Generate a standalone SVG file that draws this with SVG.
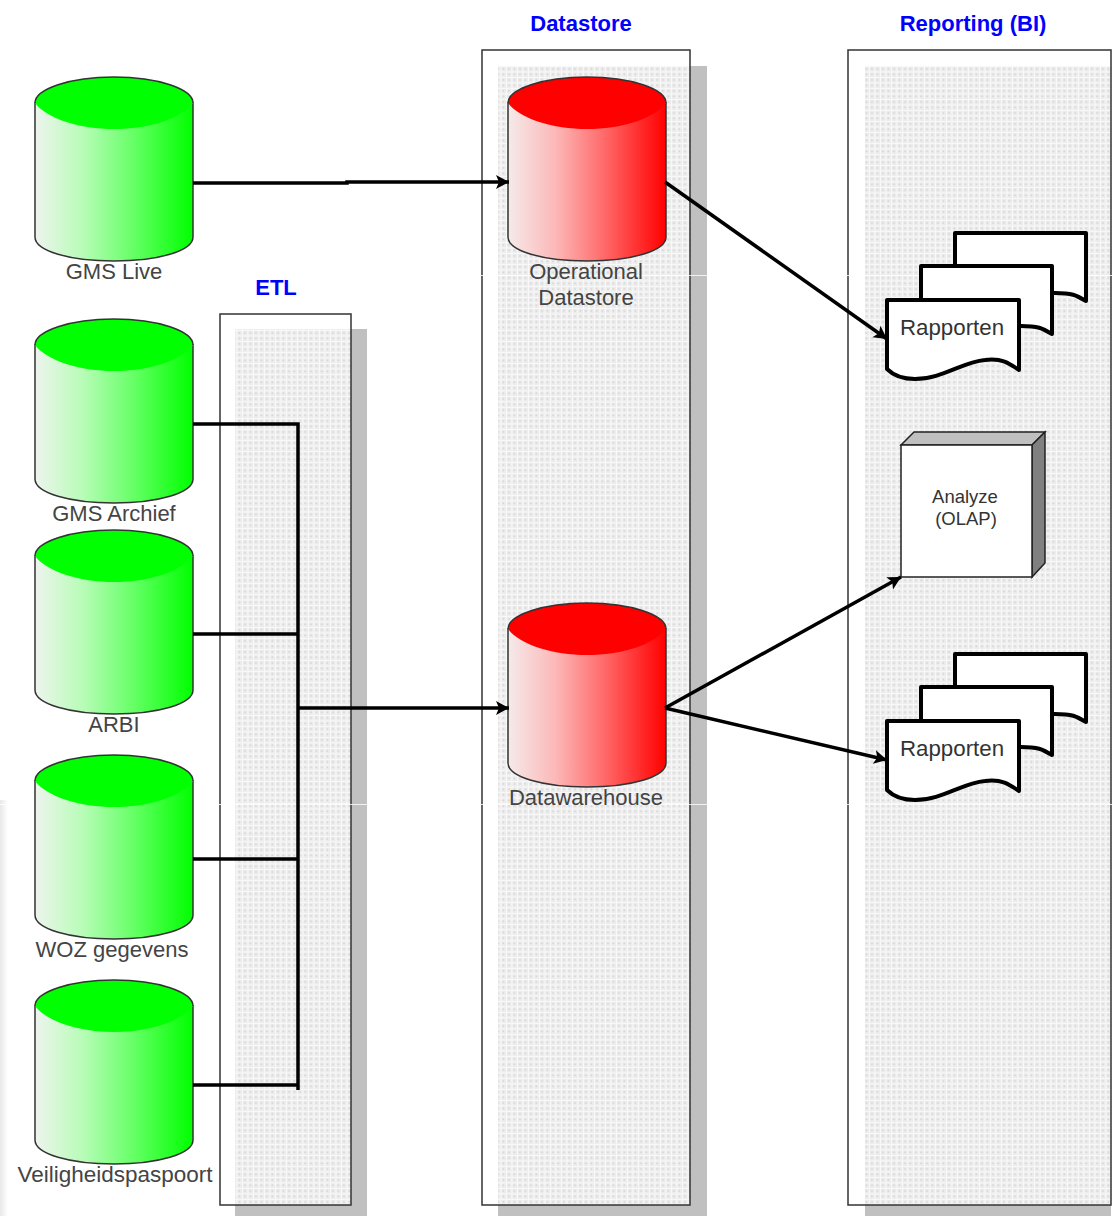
<svg xmlns="http://www.w3.org/2000/svg" xmlns:xlink="http://www.w3.org/1999/xlink" width="1113" height="1216" viewBox="0 0 1113 1216">
<style>
.title{font:bold 22px "Liberation Sans",Arial,sans-serif;fill:#0000ff;text-anchor:middle}
.lbl{font:22px "Liberation Sans",Arial,sans-serif;fill:#444;text-anchor:middle}
.sm{font:18.500px "Liberation Sans",Arial,sans-serif;fill:#333;text-anchor:middle}
.rp{font:22.300px "Liberation Sans",Arial,sans-serif;fill:#333;text-anchor:middle}
.panel{fill:none;stroke:#333;stroke-width:1.5}
.shadow{fill:#c0c0c0}
.side{stroke:#333;stroke-width:1.5}
.cap{stroke:none}
.conn{fill:none;stroke:#000;stroke-width:3.5}
.doc{fill:#fff;stroke:#000;stroke-width:4;stroke-linejoin:round}
</style>
<defs>
<pattern id="dots" width="5.500" height="5.500" patternUnits="userSpaceOnUse">
<rect width="5.500" height="5.500" fill="#ececec"/>
<path d="M0 0h5.500M0 0v5.500" stroke="#fdfdfd" stroke-width="1.300"/>
<rect x="2.200" y="2.200" width="1.400" height="1.400" fill="#cfcfcf"/>
</pattern>
<linearGradient id="gGreen"><stop offset="0" stop-color="#eef4ee"/><stop offset="0.3" stop-color="#b8fcb8"/><stop offset="0.6" stop-color="#6cff6c"/><stop offset="1" stop-color="#00ff00"/></linearGradient>
<linearGradient id="gRed"><stop offset="0" stop-color="#f6eaea"/><stop offset="0.3" stop-color="#fcb8b8"/><stop offset="0.6" stop-color="#ff6c6c"/><stop offset="1" stop-color="#ff0000"/></linearGradient>
<linearGradient id="edge"><stop offset="0" stop-color="#e8e8e8"/><stop offset="1" stop-color="#ffffff"/></linearGradient>
<marker id="arr" markerUnits="userSpaceOnUse" markerWidth="16" markerHeight="16" refX="14" refY="8" orient="auto"><path d="M1 1L14 8L1 15L4 8Z" fill="#000"/></marker>
<g id="cylG">
<path class="side" fill="url(#gGreen)" d="M0 26V160C0 174 35 184 79 184S158 174 158 160V26Z"/>
<path class="cap" fill="#00ff00" d="M0 26C12 42 45 52 79 52S146 42 158 26C158 12 123 0 79 0S0 12 0 26Z"/>
<path fill="none" class="side" d="M0 26C0 12 35 0 79 0S158 12 158 26"/>
</g>
<g id="cylR">
<path class="side" fill="url(#gRed)" d="M0 26V160C0 174 35 184 79 184S158 174 158 160V26Z"/>
<path class="cap" fill="#ff0000" d="M0 26C12 42 45 52 79 52S146 42 158 26C158 12 123 0 79 0S0 12 0 26Z"/>
<path fill="none" class="side" d="M0 26C0 12 35 0 79 0S158 12 158 26"/>
</g>
<g id="docs">
<path class="doc" d="M68 0H199V68C189 62 185 60 168 60H68Z"/>
<path class="doc" d="M34 33H165V101C155 95 151 93 134 93H34Z"/>
<path class="doc" d="M0 67H132V137C122 130 115 125 98 127C75 129 55 146 28 146C14 146 5 141 0 136Z"/>
</g>
</defs>
<rect x="0" y="800" width="8" height="416" fill="url(#edge)"/>
<g id="panel-etl">
<path class="shadow" d="M351 329H367V1216H235V1205H351Z"/>
<rect x="235" y="329" width="116" height="876" fill="url(#dots)"/>
<rect class="panel" x="220" y="314" width="131" height="891"/>
<text class="title" x="276" y="295">ETL</text>
</g>
<g id="panel-datastore">
<path class="shadow" d="M690 66H707V1216H498V1205H690Z"/>
<rect x="498" y="66" width="192" height="1139" fill="url(#dots)"/>
<rect class="panel" x="482" y="50" width="208" height="1155"/>
<text class="title" x="581" y="31">Datastore</text>
</g>
<g id="panel-reporting">
<path class="shadow" d="M1111 1205V1216H865V1205Z"/>
<rect x="865" y="66" width="246" height="1139" fill="url(#dots)"/>
<rect class="panel" x="848" y="50" width="263" height="1155"/>
<text class="title" x="973" y="31">Reporting (BI)</text>
</g>
<g id="scan-lines" stroke="#fff" stroke-width="1" opacity="0.8">
<path d="M0 275.500H1113M0 804.500H1113"/>
</g>
<g id="gms-live"><use xlink:href="#cylG" href="#cylG" x="35" y="77"/><text class="lbl" x="114" y="279">GMS Live</text></g>
<g id="gms-archief"><use xlink:href="#cylG" href="#cylG" x="35" y="319"/><text class="lbl" x="114" y="521">GMS Archief</text></g>
<g id="arbi"><use xlink:href="#cylG" href="#cylG" x="35" y="530"/><text class="lbl" x="114" y="732">ARBI</text></g>
<g id="woz"><use xlink:href="#cylG" href="#cylG" x="35" y="755"/><text class="lbl" x="112" y="957">WOZ gegevens</text></g>
<g id="veiligheid"><use xlink:href="#cylG" href="#cylG" x="35" y="980"/><text class="lbl" x="115" y="1182" style="font-size:22.500px">Veiligheidspaspoort</text></g>
<g id="ods"><use xlink:href="#cylR" href="#cylR" x="508" y="77"/><text class="lbl" x="586" y="279">Operational</text><text class="lbl" x="586" y="305">Datastore</text></g>
<g id="dwh"><use xlink:href="#cylR" href="#cylR" x="508" y="603"/><text class="lbl" x="586" y="805">Datawarehouse</text></g>
<g id="rapporten-1"><use xlink:href="#docs" href="#docs" x="887" y="233"/><text class="rp" x="952" y="335">Rapporten</text></g>
<g id="rapporten-2"><use xlink:href="#docs" href="#docs" x="887" y="654"/><text class="rp" x="952" y="756">Rapporten</text></g>
<g id="olap">
<path d="M901 445L914 432H1045L1032 445Z" fill="#c0c0c0" stroke="#222" stroke-width="1.5"/>
<path d="M1032 445L1045 432V563L1032 577Z" fill="#808080" stroke="#222" stroke-width="1.5"/>
<rect x="901" y="445" width="131" height="132" fill="#fff" stroke="#222" stroke-width="1.5"/>
<text class="sm" x="965" y="503">Analyze</text><text class="sm" x="966" y="525">(OLAP)</text>
</g>
<g id="connectors">
<path class="conn" marker-end="url(#arr)" d="M193 183H347V182H509"/>
<path class="conn" marker-end="url(#arr)" d="M665 182L887 339"/>
<path class="conn" d="M193 424H298V1090"/>
<path class="conn" d="M193 634H298M193 859H298M193 1085H298"/>
<path class="conn" marker-end="url(#arr)" d="M298 708H509"/>
<path class="conn" marker-end="url(#arr)" d="M665 708L901 577"/>
<path class="conn" marker-end="url(#arr)" d="M665 708L887 760"/>
</g>
</svg>
